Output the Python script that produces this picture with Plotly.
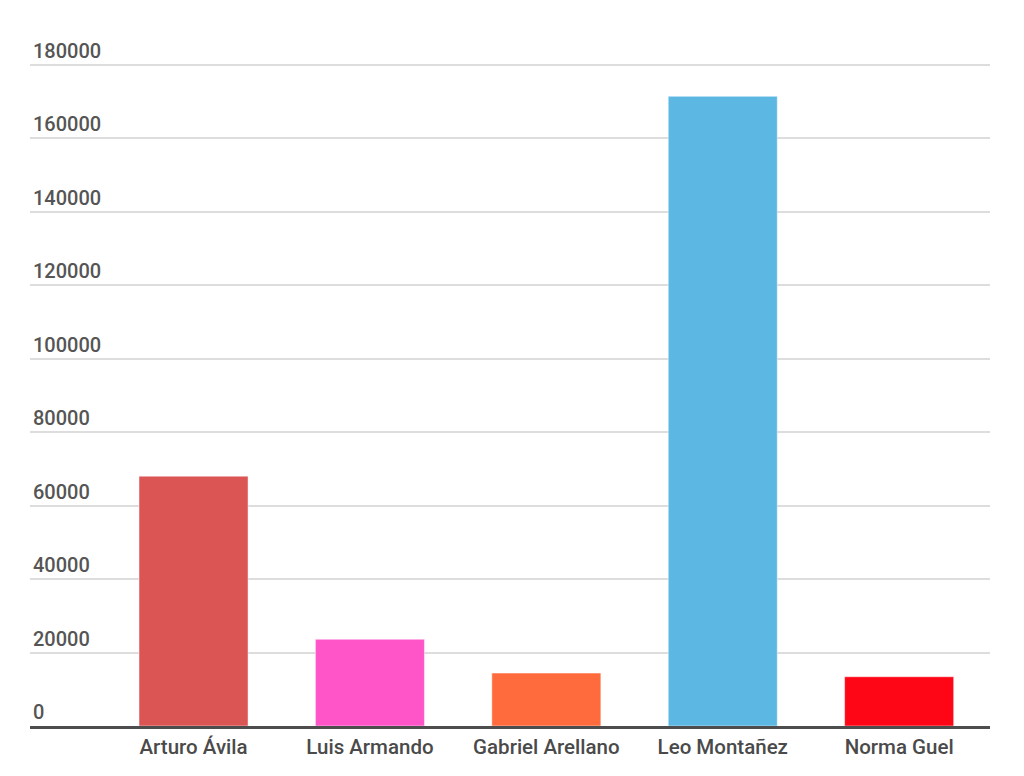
import plotly.graph_objects as go

categories = ["Arturo Ávila", "Luis Armando", "Gabriel Arellano", "Leo Montañez", "Norma Guel"]
values = [68000, 23600, 14400, 171400, 13400]
colors = ["#DB5555", "#FF55C8", "#FF6B3D", "#5DB7E3", "#FF0616"]
y_ticks = [0, 20000, 40000, 60000, 80000, 100000, 120000, 140000, 160000, 180000]

fig = go.Figure(go.Bar(
    x=categories,
    y=values,
    marker=dict(color=colors, line=dict(color="rgba(255,255,255,0.45)", width=1)),
    hoverinfo="x+y",
))

fig.update_layout(
    width=1024, height=776,
    margin=dict(l=22, r=42, t=20, b=58),
    paper_bgcolor="white", plot_bgcolor="white",
    font=dict(family="Roboto", size=20, color="#555555", weight=500),
    bargap=0.382,
    showlegend=False,
)
fig.update_xaxes(
    range=[-0.927, 4.515],
    showline=True, linecolor="#4d4d4d", linewidth=3,
    showgrid=False, ticks="",
    tickfont=dict(family="Roboto", size=20.5, color="#4a4a4a", weight=500),
    fixedrange=True,
)
fig.update_yaxes(
    range=[0, 190000],
    tickvals=y_ticks, ticktext=[str(v) for v in y_ticks],
    ticklabelposition="inside top",
    showgrid=True, gridcolor="#dddddd", gridwidth=1.5,
    zeroline=False, showline=False, ticks="",
    tickfont=dict(family="Roboto", size=20, color="#555555", weight=500),
    fixedrange=True,
)

fig.write_html("out.html")
